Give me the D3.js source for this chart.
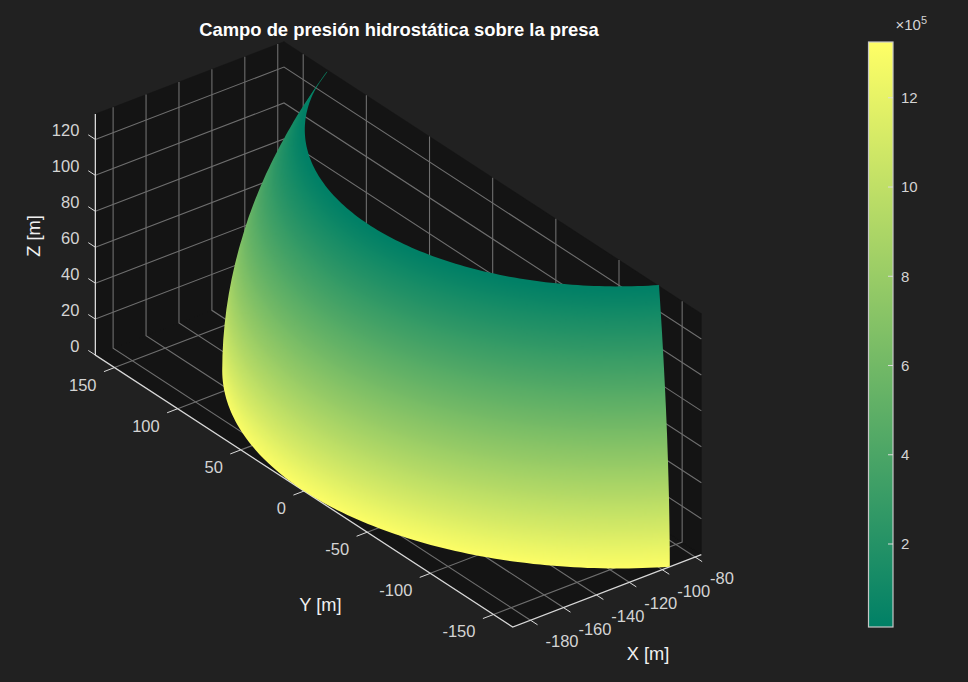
<!DOCTYPE html>
<html><head><meta charset="utf-8">
<script src="https://cdn.jsdelivr.net/npm/d3@7"></script>
<style>html,body{margin:0;padding:0;background:#212121}svg{display:block}text{font-family:"Liberation Sans",Arial,sans-serif}</style>
</head><body><div id="chart"></div>
<script>
// ---- data ----
const chartTitle = "Campo de presión hidrostática sobre la presa";
const xLim = [-190.8, -76.2];
const yLim = [-165.2, 165.2];
const zLim = [0, 134.1];
const xTicks = [-180, -160, -140, -120, -100, -80];
const yTicks = [150, 100, 50, 0, -50, -100, -150];
const zTicks = [0, 20, 40, 60, 80, 100, 120];
const colorTicks = [2, 4, 6, 8, 10, 12];
const colorDomain = [0.14, 13.25];
// dam shell: height levels, shell radius and pressure (x10^5 Pa) at each level
const zLevels = [0,6.7,13.4,20.1,26.8,33.5,40.2,46.9,53.6,60.3,67,73.7,80.4,87.1,93.8,100.5,107.2,113.9,120.6,127.3,134];
const radii = [190.8,190.7,190.4,189.9,189.2,188.3,187.2,185.9,184.4,182.7,180.9,178.8,176.5,174,171.3,168.4,165.3,162.1,158.6,154.9,151];
const pressures = [13.24,12.59,11.93,11.27,10.61,9.96,9.30,8.64,7.98,7.33,6.67,6.01,5.35,4.70,4.04,3.38,2.72,2.07,1.41,0.75,0.14];
const arcLimitsDeg = [120.8, 240];
const tailLevels = [113.9, 120.6, 127.3, 134];

// ---- layout ----
const W = 968, H = 682, BG = "#212121", PANE = "#141414", GRID = "#6e6e6e", AXIS = "#d8d8d8", TICKTXT = "#d4d4d4";
const k = 2.075, origin = [512.7, 627];
const az = -37.5 * Math.PI / 180, el = 30 * Math.PI / 180;
const sx = d3.scaleLinear().domain(xLim).range([0, (xLim[1]-xLim[0])*k]);
const sy = d3.scaleLinear().domain(yLim).range([0, (yLim[1]-yLim[0])*k]);
const sz = d3.scaleLinear().domain(zLim).range([0, (zLim[1]-zLim[0])*k]);
function project(x, y, z) {
  const X = sx(x), Y = sy(y), Z = sz(z);
  return [origin[0] + Math.cos(az)*X + Math.sin(az)*Y,
          origin[1] - (-Math.sin(el)*Math.sin(az)*X + Math.sin(el)*Math.cos(az)*Y + Math.cos(el)*Z)];
}
const cam = [Math.cos(el)*Math.sin(az), -Math.cos(el)*Math.cos(az), Math.sin(el)];
const line3 = a => "M" + a.map(p => project(...p).map(v => v.toFixed(2)).join(",")).join("L");

const svg = d3.select("#chart").append("svg").attr("width", W).attr("height", H).style("background", BG);
const defs = svg.append("defs");
const [x0, x1] = xLim, [y0, y1] = yLim, [z0, z1] = zLim;

// back panes
const panes = [
  [[x0,y0,z0],[x1,y0,z0],[x1,y1,z0],[x0,y1,z0]],
  [[x0,y1,z0],[x1,y1,z0],[x1,y1,z1],[x0,y1,z1]],
  [[x1,y0,z0],[x1,y1,z0],[x1,y1,z1],[x1,y0,z1]]
];
svg.append("g").selectAll("path").data(panes).join("path").attr("d", d => line3(d) + "Z").attr("fill", PANE).attr("stroke", PANE).attr("stroke-width", .5);

// grid lines
const gridLines = [
  ...xTicks.flatMap(t => [[[t,y0,z0],[t,y1,z0],[t,y1,z1]]]),
  ...yTicks.flatMap(t => [[[x0,t,z0],[x1,t,z0],[x1,t,z1]]]),
  ...zTicks.filter(t => t > 0).flatMap(t => [[[x0,y1,t],[x1,y1,t],[x1,y0,t]]])
];
svg.append("g").attr("fill", "none").attr("stroke", GRID).attr("stroke-width", 1.1)
  .selectAll("path").data(gridLines).join("path").attr("d", line3);

// axis rulers and ticks
const tickLen = 5.6;
const axisG = svg.append("g").attr("fill", "none").attr("stroke", AXIS);
axisG.append("path").attr("stroke-width", 1.3).attr("d", line3([[x0,y1,z1],[x0,y1,z0],[x0,y0,z0],[x1,y0,z0]]));
const tickSegs = [
  ...zTicks.map(t => [[x0,y1,t],[x0,y1+tickLen,t]]),
  ...yTicks.map(t => [[x0,t,z0],[x0-tickLen*1.15,t,z0]]),
  ...xTicks.map(t => [[t,y0,z0],[t,y0-tickLen,z0]])
];
axisG.append("g").attr("stroke-width", 1).selectAll("path").data(tickSegs).join("path").attr("d", line3);

// tick labels
const lab = svg.append("g").attr("font-size", 16.5).attr("fill", TICKTXT).attr("dominant-baseline", "central");
lab.append("g").selectAll("text").data(zTicks).join("text").attr("text-anchor", "end")
  .attr("x", t => project(x0,y1,t)[0] - 16).attr("y", t => project(x0,y1,t)[1] - 9).text(t => t);
lab.append("g").selectAll("text").data(yTicks).join("text").attr("text-anchor", "end")
  .attr("x", t => project(x0,t,z0)[0] - 18).attr("y", t => project(x0,t,z0)[1] + 17).text(t => t);
lab.append("g").selectAll("text").data(xTicks).join("text").attr("text-anchor", "start")
  .attr("x", t => project(t,y0,z0)[0] + 15).attr("y", t => project(t,y0,z0)[1] + 21).text(t => t);

// colour scale (MATLAB summer)
const color = d3.scaleLinear().domain(colorDomain).range(["rgb(0,128,102)", "rgb(255,255,102)"]).clamp(true);

// surface: horizontal strips, the far side of the shell first and the near side over it
const perLevel = 6, nCols = 120;
const radiusAt = d3.scaleLinear().domain(zLevels).range(radii);
const pressureAt = d3.scaleLinear().domain(zLevels).range(pressures);
const nRows = (zLevels.length-1)*perLevel;
const zTop = zLevels[zLevels.length-1];
const rows = d3.range(0, nRows + 1).map(i => i*zTop/nRows);
const cols = d3.range(0, nCols + 1).map(j => (arcLimitsDeg[0] + j*(arcLimitsDeg[1]-arcLimitsDeg[0])/nCols)*Math.PI/180);
const pt = (th, z) => [radiusAt(z)*Math.cos(th), radiusAt(z)*Math.sin(th), z];
const farStrips = [], nearStrips = [], fold = [];
for (let i = 0; i < nRows; i++) {
  const zA = rows[i], zB = rows[i+1], slope = -(radiusAt(zB)-radiusAt(zA))/(zB-zA);
  const isNear = th => Math.cos(th)*cam[0] + Math.sin(th)*cam[1] + slope*cam[2] > 0;
  const near = cols.filter(isNear), far = cols.filter(th => !isNear(th));
  const strip = arr => ({
    poly: [...arr.map(th => pt(th, zA)), ...arr.slice().reverse().map(th => pt(th, zB))],
    p: pressureAt((zA+zB)/2)
  });
  fold.push(near[0]);
  nearStrips.push(strip(near));
  farStrips.push(strip(far.concat([near[0]])));
}
const strips = [...farStrips, ...nearStrips];

// exact outline of the shell: near part and far part, each one polygon
const thLast = cols[cols.length-1], thFirst = cols[0];
const nearOutline = [
  ...cols.filter(th => th >= fold[0]).map(th => pt(th, rows[0])),
  ...rows.map(z => pt(thLast, z)),
  ...cols.filter(th => th >= fold[nRows-1]).reverse().map(th => pt(th, rows[nRows])),
  ...d3.range(nRows-1, -1, -1).map(i => pt(fold[i], rows[i]))
];
const farOutline = [
  ...cols.filter(th => th <= fold[0]).map(th => pt(th, rows[0])),
  ...d3.range(0, nRows).map(i => pt(fold[i], rows[i])),
  ...cols.filter(th => th <= fold[nRows-1]).reverse().map(th => pt(th, rows[nRows])),
  ...rows.slice().reverse().map(z => pt(thFirst, z))
];
const clip = defs.append("clipPath").attr("id", "shellClip");
clip.append("path").attr("d", line3(farOutline) + "Z");
clip.append("path").attr("d", line3(nearOutline) + "Z");
const blur = defs.append("filter").attr("id", "soft").attr("filterUnits", "userSpaceOnUse")
  .attr("x", 190).attr("y", 50).attr("width", 500).attr("height", 530).attr("color-interpolation-filters", "sRGB");
blur.append("feGaussianBlur").attr("stdDeviation", 1.2);
svg.append("g").attr("clip-path", "url(#shellClip)").append("g").attr("filter", "url(#soft)")
  .attr("stroke-width", 4).attr("stroke-linejoin", "bevel").selectAll("path").data(strips).join("path")
  .attr("d", d => line3(d.poly) + "Z").attr("fill", d => color(d.p)).attr("stroke", d => color(d.p));

// the hairline tip of the shell, thinner than a pixel
svg.append("path").attr("d", line3(tailLevels.map(z => pt(thFirst, z))))
  .attr("fill", "none").attr("stroke", color(pressureAt(127.3))).attr("stroke-width", .7);

// titles
svg.append("text").attr("x", 399).attr("y", 29).attr("text-anchor", "middle").attr("dominant-baseline","central").attr("font-size", 18.4).attr("font-weight", "bold").attr("fill", "#ffffff").text(chartTitle);
const atit = svg.append("g").attr("font-size", 18.3).attr("fill", "#f0f0f0").attr("text-anchor", "middle").attr("dominant-baseline", "central");
atit.append("text").attr("x", 648).attr("y", 653).text("X [m]");
atit.append("text").attr("x", 320.5).attr("y", 604.5).text("Y [m]");
atit.append("text").attr("transform", "translate(33,236) rotate(-90)").text("Z [m]");

// colour bar
const cbX = 868.5, cbW = 24.5, cbTop = 42, cbBot = 627;
const cbScale = d3.scaleLinear().domain(colorDomain).range([cbBot, cbTop]);
const lg = defs.append("linearGradient").attr("id", "cbgrad").attr("x1", 0).attr("y1", 1).attr("x2", 0).attr("y2", 0);
lg.selectAll("stop").data(colorDomain).join("stop").attr("offset", (d,i) => i).attr("stop-color", d => color(d));
svg.append("rect").attr("x", cbX).attr("y", cbTop).attr("width", cbW).attr("height", cbBot-cbTop)
  .attr("fill", "url(#cbgrad)").attr("stroke", "#c6c6c6").attr("stroke-width", 1.2);
const cbAxis = svg.append("g").attr("transform", `translate(${cbX+cbW},0)`)
  .call(d3.axisRight(cbScale).tickValues(colorTicks).tickSize(0).tickPadding(8).tickFormat(d3.format("d")));
cbAxis.select(".domain").remove();
cbAxis.selectAll("text").attr("font-size", 15).attr("fill", TICKTXT).attr("font-family", '"Liberation Sans",Arial,sans-serif');
svg.append("g").attr("stroke", "#dcdcdc").attr("stroke-width", 1).selectAll("line").data(colorTicks).join("line")
  .attr("x1", cbX+cbW-5).attr("x2", cbX+cbW).attr("y1", d => cbScale(d)).attr("y2", d => cbScale(d));
const mult = svg.append("text").attr("x", 895.5).attr("y", 30).attr("font-size", 15).attr("fill", TICKTXT);
mult.append("tspan").text("×10");
mult.append("tspan").attr("font-size", 11).attr("dy", -6).text("5");
</script></body></html>
